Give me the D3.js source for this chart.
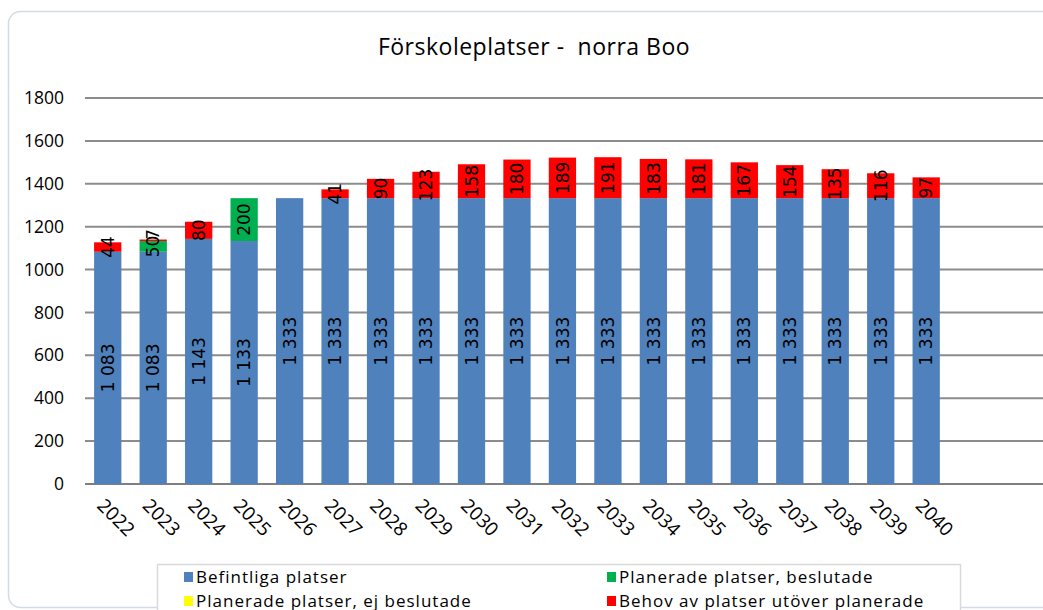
<!DOCTYPE html>
<html>
<head>
  <meta charset="utf-8">
  <title>Förskoleplatser - norra Boo</title>
  <script src="https://cdn.jsdelivr.net/npm/d3@7"></script>
  <style>
    body { margin: 0; background: #fff; }
    text { font-family: "Open Sans", Lato, sans-serif; fill: #000; }
    .barlabel { font-family: "DejaVu Sans", sans-serif; font-size: 17px; }
  </style>
</head>
<body>
  <div id="chart"></div>
  <script type="text/javascript">

  // data
  var years = ['2022','2023','2024','2025','2026','2027','2028','2029','2030','2031',
               '2032','2033','2034','2035','2036','2037','2038','2039','2040'];
  var befintliga = [1083,1083,1143,1133,1333,1333,1333,1333,1333,1333,
                    1333,1333,1333,1333,1333,1333,1333,1333,1333];
  var beslutade  = [0,50,0,200,0,0,0,0,0,0,0,0,0,0,0,0,0,0,0];
  var ejBeslutade = [0,0,0,0,0,0,0,0,0,0,0,0,0,0,0,0,0,0,0];
  var behov      = [44,7,80,0,0,41,90,123,158,180,189,191,183,181,167,154,135,116,97];
  var yTicks = [0,200,400,600,800,1000,1200,1400,1600,1800];

  var seriesNames = ['Befintliga platser','Planerade platser, beslutade',
                     'Planerade platser, ej beslutade','Behov av platser utöver planerade'];
  var seriesColors = ['#4f81bd','#00b050','#ffff00','#ff0000'];

  var width = 1043, height = 610;

  var svg = d3.select('#chart').append('svg')
              .attr('width', width)
              .attr('height', height);

  // chart frame
  svg.append('rect')
     .attr('x', 8.5).attr('y', 11.5)
     .attr('width', 1060).attr('height', 596)
     .attr('rx', 12)
     .style('fill', 'none')
     .style('stroke', '#d3dbe6')
     .style('stroke-width', 1.5);

  svg.append('text')
     .attr('x', 534).attr('y', 55)
     .attr('text-anchor', 'middle')
     .style('font-size', '23px')
     .style('letter-spacing', '0.5px')
     .style('white-space', 'pre')
     .text('Förskoleplatser -  norra Boo');

  // plot area runs off the right edge like in the original
  var left = 85, bandW = 45.47, nSlots = 22;
  var x = d3.scaleBand()
            .domain(d3.range(nSlots))
            .range([left, left + bandW * nSlots])
            .paddingInner(0.4).paddingOuter(0.2);

  var y = d3.scaleLinear().domain([0, 1800]).range([484, 98]);

  // gridlines
  svg.append('g').selectAll('line')
     .data(yTicks)
     .enter().append('line')
     .attr('x1', left).attr('x2', width)
     .attr('y1', function(d){ return y(d); })
     .attr('y2', function(d){ return y(d); })
     .style('stroke', function(d){ return d === 0 ? '#7f7f7f' : '#8c8c8c'; })
     .style('stroke-width', 2);

  var yAxis = d3.axisLeft(y).tickValues(yTicks).tickSize(0).tickPadding(0)
                .tickFormat(d3.format('d'));
  var ga = svg.append('g').attr('transform', 'translate(64,0)').call(yAxis);
  ga.select('.domain').remove();
  ga.selectAll('text').style('font-size', '17.5px').style('font-family', '"Open Sans", sans-serif')
    .attr('fill', '#000');

  // stacks
  var rows = years.map(function(yr, i){
    return { i: i, year: yr, values: [befintliga[i], beslutade[i], ejBeslutade[i], behov[i]] };
  });

  var swe = d3.formatLocale({ decimal: ',', thousands: '\u00a0', grouping: [3], currency: ['', ' kr'] });
  var fmt = swe.format(',d');

  var segs = [];
  rows.forEach(function(r){
    var base = 0, prevLab = null;
    r.values.forEach(function(v, s){
      if (v > 0) {
        var d = { i: r.i, s: s, v: v, y0: base, y1: base + v };
        d.ly = (y(d.y0) + y(d.y1)) / 2;
        // push a label up if it would sit on top of the one below
        if (prevLab !== null && prevLab - d.ly < 12) d.ly = prevLab - 12;
        prevLab = d.ly;
        segs.push(d);
      }
      base += v;
    });
  });

  svg.append('g').selectAll('rect')
     .data(segs)
     .enter().append('rect')
     .attr('x', function(d){ return x(d.i); })
     .attr('width', x.bandwidth())
     .attr('y', function(d){ return y(d.y1); })
     .attr('height', function(d){ return y(d.y0) - y(d.y1); })
     .style('fill', function(d){ return seriesColors[d.s]; });

  svg.append('g').selectAll('text')
     .data(segs)
     .enter().append('text')
     .attr('class', 'barlabel')
     .attr('text-anchor', 'middle')
     .attr('dy', '0.36em')
     .attr('transform', function(d){
        var cx = x(d.i) + x.bandwidth() / 2;
        return 'translate(' + cx + ',' + d.ly + ') rotate(-90)';
     })
     .text(function(d){ return fmt(d.v); });

  // year labels at 45 degrees
  svg.append('g').selectAll('text')
     .data(years)
     .enter().append('text')
     .attr('transform', function(d, i){
        return 'translate(' + (x(i) + x.bandwidth() / 2 - 7) + ',502) rotate(45)';
     })
     .attr('dy', '0.35em')
     .style('font-size', '19px')
     .text(function(d){ return d; });

  // legend
  var lg = svg.append('g');
  lg.append('rect')
    .attr('x', 157.5).attr('y', 564.5)
    .attr('width', 803).attr('height', 60)
    .style('fill', '#fff')
    .style('stroke', '#d9d9d9')
    .style('stroke-width', 1.5);

  var legendPos = [[184, 577], [607, 577], [184, 601], [607, 601]];
  var items = lg.selectAll('g.item')
    .data(seriesNames)
    .enter().append('g')
    .attr('transform', function(d, i){ return 'translate(' + legendPos[i][0] + ',' + legendPos[i][1] + ')'; });
  items.append('rect')
    .attr('x', 0).attr('y', -5).attr('width', 9).attr('height', 10)
    .style('fill', function(d, i){ return seriesColors[i]; });
  items.append('text')
    .attr('x', 12).attr('dy', '0.35em')
    .style('font-size', '17px')
    .style('letter-spacing', '1px')
    .text(function(d){ return d; });

  </script>
</body>
</html>
